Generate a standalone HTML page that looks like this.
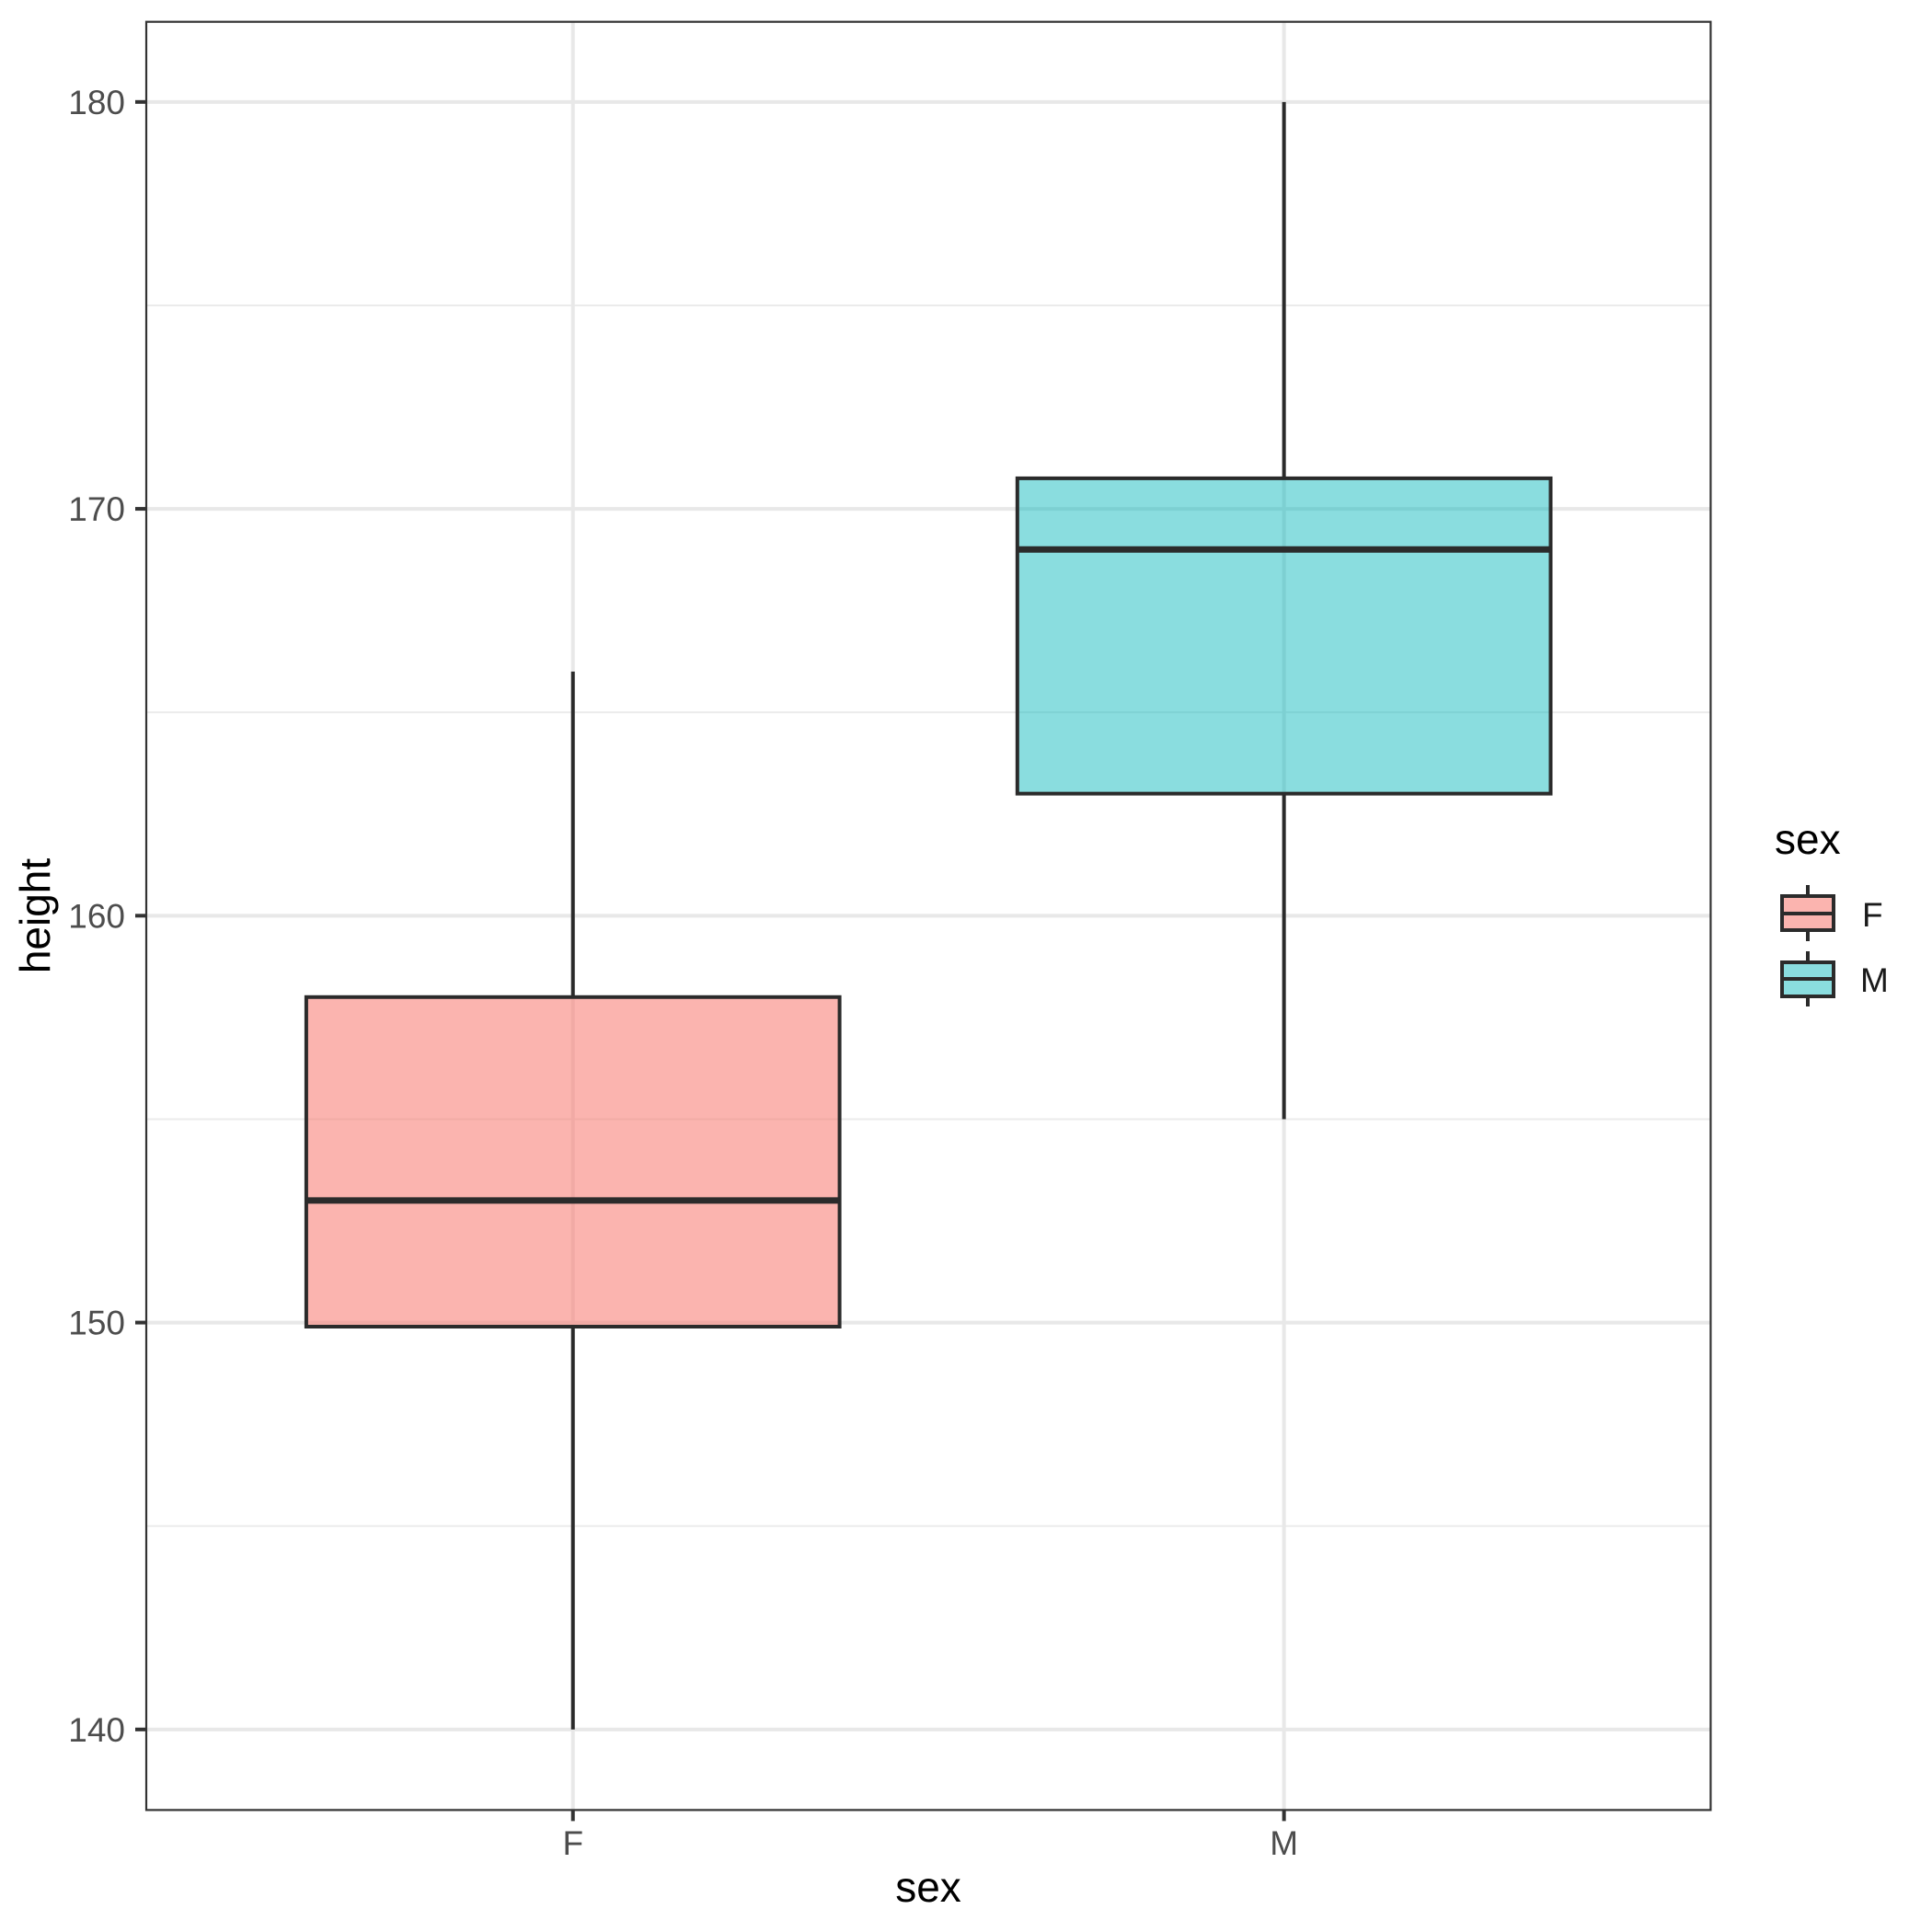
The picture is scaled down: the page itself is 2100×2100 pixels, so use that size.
<!DOCTYPE html>
<html><head><meta charset="utf-8"><style>
html,body{margin:0;padding:0;background:#fff}
svg{display:block}
text{font-family:"Liberation Sans",Arial,sans-serif}
</style></head><body>
<svg id="chart" width="2100" height="2100" viewBox="0 0 2100 2100" xmlns="http://www.w3.org/2000/svg">
<rect x="0" y="0" width="2100" height="2100" fill="#fff"/>
<g id="grid"></g>
<g id="boxes"></g>
<rect x="159" y="23.7" width="1700.4" height="1943.7" fill="none" stroke="#333" stroke-width="2.2"/>
<g id="axes"></g>
<text x="1009" y="2067" font-size="46" text-anchor="middle" fill="#000">sex</text>
<text transform="translate(54,995.5) rotate(-90)" font-size="46" text-anchor="middle" fill="#000">height</text>
<g>
<text x="1929" y="928" font-size="46" fill="#000">sex</text>
<g>
<line x1="1965" y1="962" x2="1965" y2="974" stroke="#2b2b2b" stroke-width="4"/>
<line x1="1965" y1="1011" x2="1965" y2="1023" stroke="#2b2b2b" stroke-width="4"/>
<rect x="1937" y="974" width="56" height="37" fill="#F8766D" fill-opacity="0.55" stroke="#2b2b2b" stroke-width="4"/>
<line x1="1937" y1="993" x2="1993" y2="993" stroke="#2b2b2b" stroke-width="4"/>
<text x="2024" y="1007" font-size="37" fill="#1a1a1a">F</text>
</g>
<g>
<line x1="1965" y1="1034" x2="1965" y2="1046" stroke="#2b2b2b" stroke-width="4"/>
<line x1="1965" y1="1083" x2="1965" y2="1094" stroke="#2b2b2b" stroke-width="4"/>
<rect x="1937" y="1046" width="56" height="37" fill="#00B4BA" fill-opacity="0.46" stroke="#2b2b2b" stroke-width="4"/>
<line x1="1937" y1="1064" x2="1993" y2="1064" stroke="#2b2b2b" stroke-width="4"/>
<text x="2022" y="1078" font-size="37" fill="#1a1a1a">M</text>
</g>
</g>
</svg>
<script>
const categories = ["F", "M"];
const lowerWhisker = [140, 155];
const q1Values = [149.9, 163];
const medianValues = [153, 169];
const q3Values = [158, 170.75];
const upperWhisker = [166, 180];
const yTicks = [140, 150, 160, 170, 180];
const yMinor = [145, 155, 165, 175];

const NS = "http://www.w3.org/2000/svg";
const PL = 159, PR = 1859.4, PT = 23.7, PB = 1967.4;
const Y0 = 138.02, Y1 = 181.97;
function yScale(v){ return PB - (v - Y0) / (Y1 - Y0) * (PB - PT); }
const unit = (PR - PL) / (categories.length + 0.2);
function xScale(i){ return PL + (i + 0.6) * unit; }
const halfW = 0.375 * unit;
function mk(tag, attrs, parent){
  const e = document.createElementNS(NS, tag);
  for (const k in attrs) e.setAttribute(k, attrs[k]);
  parent.appendChild(e);
  return e;
}
const grid = document.getElementById('grid');
const boxes = document.getElementById('boxes');
const axes = document.getElementById('axes');
yMinor.forEach(v => {
  const l = mk('line', {x1: PL, x2: PR, y1: yScale(v), y2: yScale(v), stroke: '#ebebeb', 'stroke-width': 2}, grid);
  
  
});
yTicks.forEach(v => {
  const l = mk('line', {x1: PL, x2: PR, y1: yScale(v), y2: yScale(v), stroke: '#e8e8e8', 'stroke-width': 4}, grid);
  
  
  const t = mk('line', {x1: PL - 12, x2: PL, y1: yScale(v), y2: yScale(v), stroke: '#333', 'stroke-width': 4}, axes);
  
  
  const tx = mk('text', {x: 136, y: yScale(v) + 13, 'font-size': 37, 'text-anchor': 'end', fill: '#4d4d4d'}, axes);
  tx.textContent = v;
  
  
});
categories.forEach((c, i) => {
  const x = xScale(i);
  const g = mk('line', {x1: x, x2: x, y1: PT, y2: PB, stroke: '#e8e8e8', 'stroke-width': 4}, grid);
  
  
  const t = mk('line', {x1: x, x2: x, y1: PB, y2: PB + 12, stroke: '#333', 'stroke-width': 4}, axes);
  
  
  const tx = mk('text', {x: x, y: 2016, 'font-size': 37, 'text-anchor': 'middle', fill: '#4d4d4d'}, axes);
  tx.textContent = c;
  
  
});
const fills = ['#F8766D', '#00B4BA'];
const opac = [0.55, 0.46];
categories.forEach((c, i) => {
  const x = xScale(i);
  const grp = mk('g', {}, boxes);
  
  
  const w1 = mk('line', {x1: x, x2: x, y1: yScale(lowerWhisker[i]), y2: yScale(q1Values[i]), stroke: '#2b2b2b', 'stroke-width': 4}, grp);
  
  
  const w2 = mk('line', {x1: x, x2: x, y1: yScale(q3Values[i]), y2: yScale(upperWhisker[i]), stroke: '#2b2b2b', 'stroke-width': 4}, grp);
  
  
  const r = mk('rect', {x: x - halfW, y: yScale(q3Values[i]), width: 2 * halfW, height: yScale(q1Values[i]) - yScale(q3Values[i]), fill: fills[i], 'fill-opacity': opac[i], stroke: '#2b2b2b', 'stroke-width': 4}, grp);
  
  
  const m = mk('line', {x1: x - halfW, x2: x + halfW, y1: yScale(medianValues[i]), y2: yScale(medianValues[i]), stroke: '#2b2b2b', 'stroke-width': 7}, grp);
  
  
});
</script>
</body></html>
